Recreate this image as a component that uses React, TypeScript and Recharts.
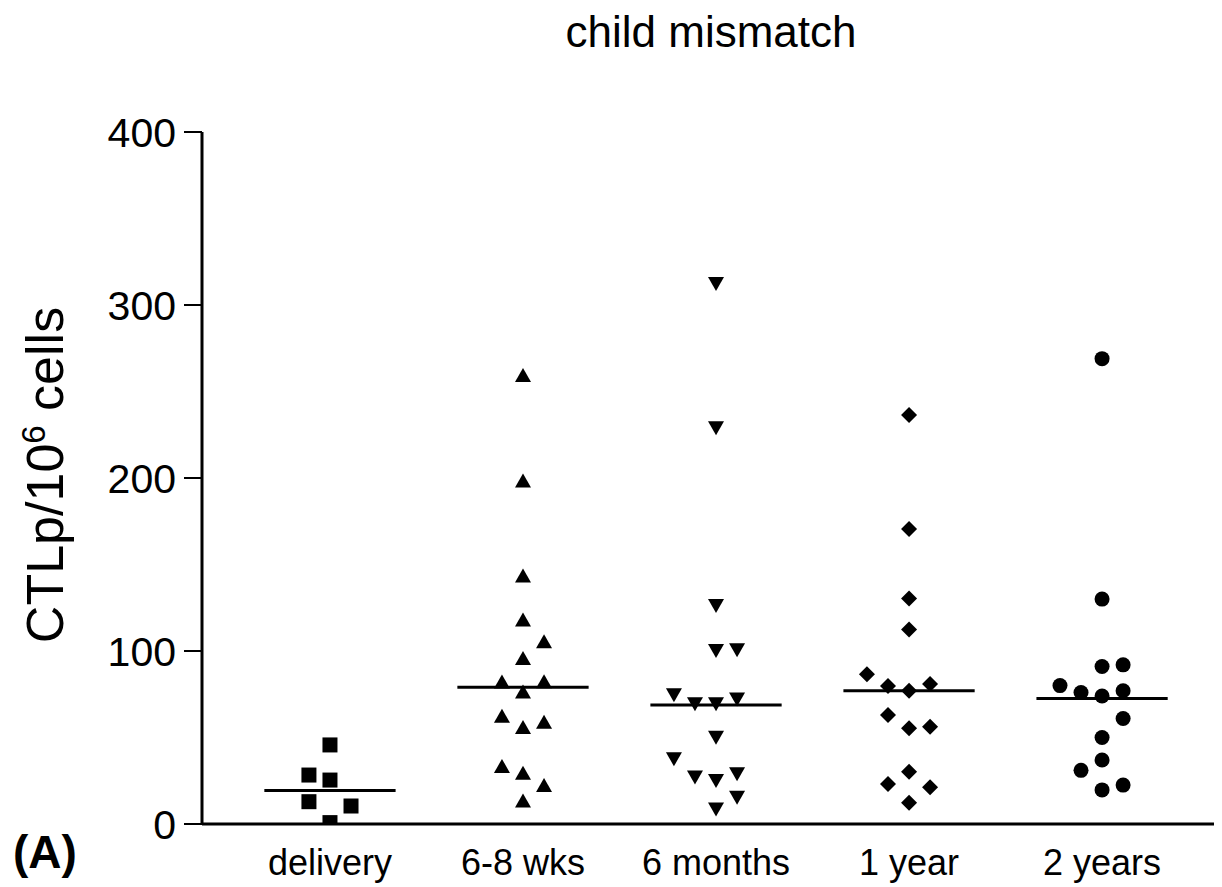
import React from "react";
import { ScatterChart, Scatter, XAxis, YAxis, ReferenceLine } from "recharts";

const categories = ["delivery", "6-8 wks", "6 months", "1 year", "2 years"];
const yTicks = [0, 100, 200, 300, 400];

const deliveryValues = [45.7, 28.3, 25.4, 12.9, 10.4, 0.8];
const deliveryColumns = [0, -1, 0, -1, 1, 0];

const weeksValues = [259, 198, 143, 117.6, 105, 95.4, 81.8, 82, 76, 62, 55.5, 58.5, 33, 29, 22, 13];
const weeksColumns = [0, 0, 0, 0, 1, 0, -1, 1, 0, -1, 0, 1, -1, 0, 1, 0];

const monthsValues = [312.7, 229.3, 126.6, 100.6, 101, 75, 69.8, 69.8, 72.6, 50.5, 38, 27.4, 25.4, 29.3, 15.8, 9];
const monthsColumns = [0, 0, 0, 0, 1, -2, -1, 0, 1, 0, -2, -1, 0, 1, 1, 0];

const yearValues = [236.4, 170.5, 130.4, 112.5, 86.5, 79.8, 77, 80.9, 63, 55.3, 56.2, 30.2, 23.1, 21.2, 12.3];
const yearColumns = [0, 0, 0, 0, -2, -1, 0, 1, -1, 0, 1, 0, -1, 1, 0];

const twoYearValues = [269, 130, 91, 92, 80, 76, 74, 77, 61, 50, 37, 31, 22.5, 19.7];
const twoYearColumns = [0, 0, 0, 1, -2, -1, 0, 1, 1, 0, 0, -1, 1, 0];

const medians = [19.3, 79, 68.8, 77, 72.5];

const COL_STEP = 0.109;
const MEDIAN_HALF = 0.34;
const FONT = "'Liberation Sans', Arial, Helvetica, sans-serif";

const toPoints = (cat: number, values: number[], cols: number[]) =>
  values.map((v, i) => ({ x: cat + cols[i] * COL_STEP, y: v }));

const Square = (p: any) => (
  <rect x={p.cx - 7.5} y={p.cy - 7.5} width={15} height={15} fill="#000" />
);
const TriUp = (p: any) => (
  <polygon points={`${p.cx},${p.cy - 8} ${p.cx + 8},${p.cy + 6} ${p.cx - 8},${p.cy + 6}`} fill="#000" />
);
const TriDown = (p: any) => (
  <polygon points={`${p.cx},${p.cy + 8} ${p.cx + 8},${p.cy - 6} ${p.cx - 8},${p.cy - 6}`} fill="#000" />
);
const Diamond = (p: any) => (
  <polygon points={`${p.cx},${p.cy - 8} ${p.cx + 8},${p.cy} ${p.cx},${p.cy + 8} ${p.cx - 8},${p.cy}`} fill="#000" />
);
const Dot = (p: any) => <circle cx={p.cx} cy={p.cy} r={7.5} fill="#000" />;

const series = [
  { data: toPoints(0, deliveryValues, deliveryColumns), shape: Square },
  { data: toPoints(1, weeksValues, weeksColumns), shape: TriUp },
  { data: toPoints(2, monthsValues, monthsColumns), shape: TriDown },
  { data: toPoints(3, yearValues, yearColumns), shape: Diamond },
  { data: toPoints(4, twoYearValues, twoYearColumns), shape: Dot },
];

export default function App() {
  return (
    <div style={{ position: "relative", width: 1214, height: 879, background: "#fff" }}>
      <ScatterChart width={1214} height={879} margin={{ top: 124, right: 2, left: 0, bottom: 0 }}>
        <XAxis
          type="number"
          dataKey="x"
          domain={[-0.663, 4.611]}
          ticks={[0, 1, 2, 3, 4]}
          tickFormatter={(i: number) => categories[i]}
          allowDataOverflow
          height={63}
          tickLine={false}
          tickSize={0}
          tickMargin={25}
          axisLine={{ stroke: "#000", strokeWidth: 3 }}
          tick={{ fontSize: 36, fill: "#000", fontFamily: FONT }}
          interval={0}
        />
        <YAxis
          type="number"
          dataKey="y"
          domain={[0, 400]}
          ticks={yTicks}
          width={194}
          allowDataOverflow
          tickSize={18}
          tickMargin={8}
          axisLine={{ stroke: "#000", strokeWidth: 3 }}
          tickLine={{ stroke: "#000", strokeWidth: 2 }}
          tick={{ fontSize: 41, fill: "#000", fontFamily: FONT }}
        />
        {medians.map((m, i) => (
          <ReferenceLine
            key={"m" + i}
            segment={[{ x: i - MEDIAN_HALF, y: m }, { x: i + MEDIAN_HALF, y: m }]}
            stroke="#000"
            strokeWidth={3}
          />
        ))}
        {series.map((s, i) => (
          <Scatter key={i} data={s.data} shape={s.shape} fill="#000" isAnimationActive={false} />
        ))}
      </ScatterChart>
      <svg
        width={1214}
        height={879}
        style={{ position: "absolute", left: 0, top: 0, pointerEvents: "none" }}
      >
        <text x={703} y={39} textAnchor="middle" fontSize={44} fontFamily={FONT} fill="#000">
          child mismatch
        </text>
        <text
          transform="translate(55, 467) rotate(-90)"
          textAnchor="middle"
          fontSize={52}
          fontFamily={FONT}
          fill="#000"
        >
          CTLp/10
          <tspan baselineShift="super" fontSize={33}>6</tspan>
          <tspan> cells</tspan>
        </text>
        <text x={5} y={860} fontSize={46} fontWeight="bold" fontFamily={FONT} fill="#000">
          (A)
        </text>
      </svg>
    </div>
  );
}
